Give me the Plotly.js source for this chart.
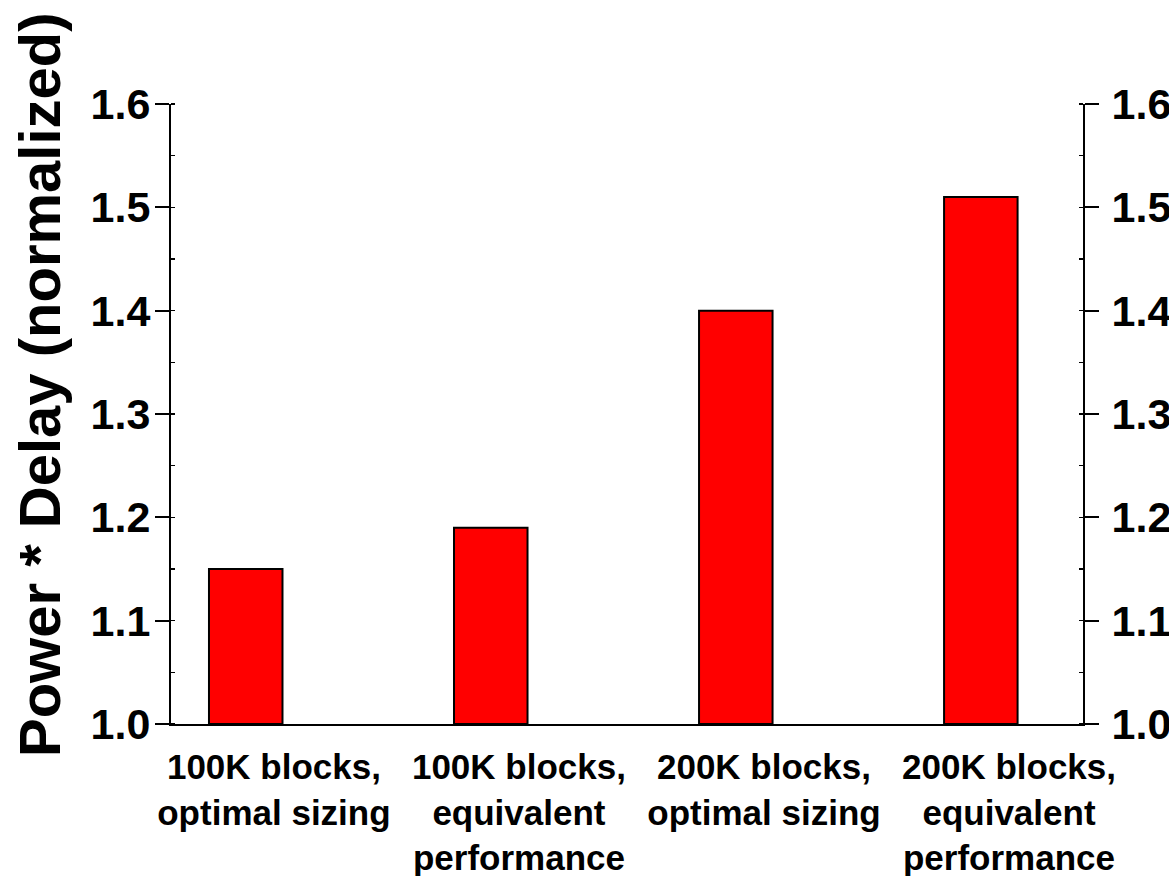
<!DOCTYPE html>
<html>
<head>
<meta charset="utf-8">
<script src="https://cdn.plot.ly/plotly-3.0.1.min.js"></script>
<style>
  html, body { margin: 0; padding: 0; background: #fff; }
  #chart { width: 1169px; height: 876px; }
</style>
</head>
<body>
<div id="chart"></div>
<script>
// Normalized power-delay product for each block configuration
const categories = [
  "100K blocks,<br>optimal sizing",
  "100K blocks,<br>equivalent<br>performance",
  "200K blocks,<br>optimal sizing",
  "200K blocks,<br>equivalent<br>performance"
];
const powerDelay = [1.15, 1.19, 1.40, 1.51];
const yTicks = [1.0, 1.1, 1.2, 1.3, 1.4, 1.5, 1.6];
const yTickText = ["1.0", "1.1", "1.2", "1.3", "1.4", "1.5", "1.6"];
const yTitle = "Power * Delay (normalized)";

const FONT = "Arial, 'Liberation Sans', Helvetica, sans-serif";

const valueAxis = {
  range: [1.0, 1.6],
  tickvals: yTicks,
  ticktext: yTickText,
  ticks: "outside",
  ticklen: 14,
  tickwidth: 2,
  tickcolor: "#000",
  showline: true,
  linewidth: 2,
  linecolor: "#000",
  showgrid: false,
  zeroline: false,
  fixedrange: true,
  tickfont: { family: FONT, size: 43, color: "#000", weight: "bold" },
  minor: { dtick: 0.05, ticks: "inside", ticklen: 4, tickwidth: 1.5, tickcolor: "#000", showgrid: false }
};

const trace = {
  type: "bar",
  x: [0, 1, 2, 3],
  y: powerDelay.map(v => v - 1.0),
  base: 1.0,
  width: 0.3,
  offset: -0.265,
  marker: { color: "#ff0000", line: { color: "#000", width: 2 } },
  hoverinfo: "skip"
};

// Invisible trace so the right-hand axis is drawn with the same scale
const mirror = {
  type: "scatter",
  x: [0, 3],
  y: [1.0, 1.6],
  yaxis: "y2",
  mode: "none",
  hoverinfo: "skip",
  showlegend: false
};

const layout = {
  width: 1169,
  height: 876,
  margin: { l: 171, r: 86, t: 104, b: 152 },
  paper_bgcolor: "#fff",
  plot_bgcolor: "#fff",
  showlegend: false,
  bargap: 0,
  xaxis: {
    range: [-0.42, 3.302],
    tickvals: [0, 1, 2, 3],
    ticktext: categories,
    ticks: "",
    ticklabelstandoff: 11,
    showline: true,
    linewidth: 2,
    linecolor: "#000",
    showgrid: false,
    zeroline: false,
    fixedrange: true,
    tickfont: { family: FONT, size: 35, color: "#000", weight: "bold" }
  },
  yaxis: Object.assign({}, valueAxis, { side: "left", ticklabelstandoff: -4 }),
  yaxis2: Object.assign({}, valueAxis, { side: "right", overlaying: "y", ticklabelstandoff: 4 }),
  annotations: [{
    text: yTitle,
    xref: "paper", yref: "paper",
    x: -0.1436, y: 0.5468,
    xanchor: "center", yanchor: "middle",
    textangle: -90,
    showarrow: false,
    font: { family: FONT, size: 58, color: "#000", weight: "bold" }
  }]
};

Plotly.newPlot("chart", [trace, mirror], layout, { displayModeBar: false, staticPlot: true });
</script>
</body>
</html>
